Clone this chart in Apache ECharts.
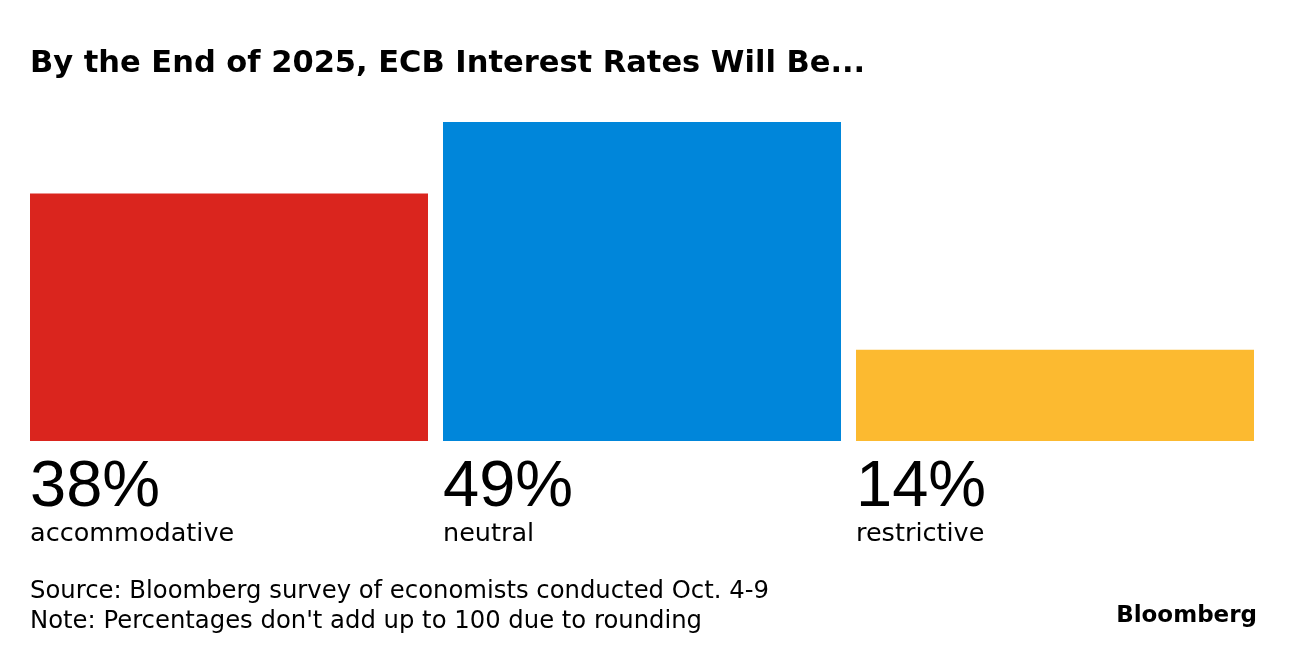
<!DOCTYPE html>
<html>
<head>
<meta charset="utf-8">
<script src="https://cdn.jsdelivr.net/npm/echarts@6/dist/echarts.min.js"></script>
<style>html,body{margin:0;padding:0;background:#fff;}#c{width:1296px;height:660px;}</style>
</head>
<body>
<div id="c"></div>
<script>
const categories = ['accommodative', 'neutral', 'restrictive'];
const values = [38, 49, 14];
const colors = ['#da251e', '#0086da', '#fcba30'];
const titleText = 'By the End of 2025, ECB Interest Rates Will Be...';
const sourceText = 'Source: Bloomberg survey of economists conducted Oct. 4-9\nNote: Percentages don\'t add up to 100 due to rounding';
const FONT = 'DejaVu Sans, sans-serif';
const FONT2 = 'Liberation Sans, Arial, sans-serif';

const chart = echarts.init(document.getElementById('c'), null, {renderer: 'canvas'});
chart.setOption({
  backgroundColor: '#fff',
  animation: false,
  title: [
    {text: titleText, left: 25, top: 44,
     textStyle: {fontFamily: FONT, fontWeight: 'bold', fontSize: 30.5, color: '#000'}},
    {text: sourceText, left: 25, top: 572,
     textStyle: {fontFamily: FONT, fontWeight: 'normal', fontSize: 24.3, lineHeight: 30, color: '#000'}},
    {text: 'Bloomberg', right: 34, top: 600,
     textStyle: {fontFamily: FONT, fontWeight: 'bold', fontSize: 23, color: '#000'}}
  ],
  grid: {left: 22.5, right: 34.5, top: 122, bottom: 219, containLabel: false},
  xAxis: {type: 'category', data: categories, show: false, boundaryGap: true},
  yAxis: {type: 'value', min: 0, max: 49, show: false},
  series: [{
    type: 'bar',
    barWidth: 398,
    data: values.map((v, i) => ({value: v, itemStyle: {color: colors[i]}})),
    label: {
      show: true,
      position: 'insideBottomLeft',
      distance: 0,
      verticalAlign: 'top',
      align: 'left',
      offset: [0, 16],
      formatter: p => '{p|' + p.value + '%}\n{c|' + categories[p.dataIndex] + '}',
      rich: {
        p: {fontFamily: FONT2, fontSize: 65, lineHeight: 62, color: '#000'},
        c: {fontFamily: FONT, fontSize: 25.5, lineHeight: 30, color: '#000'}
      }
    }
  }]
});
</script>
</body>
</html>
